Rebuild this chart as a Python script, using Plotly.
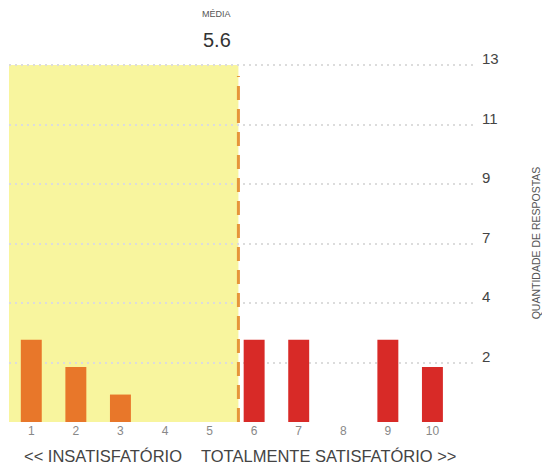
import plotly.graph_objects as go

# Satisfaction scores (1-10) and how many answers each received
scores = [1, 2, 3, 4, 5, 6, 7, 8, 9, 10]
answers = [3, 2, 1, 0, 0, 3, 3, 0, 3, 2]

y_max = 13
y_ticks = [y_max * i / 6 for i in range(7)]
y_labels = ["" if v == 0 else str(int(v + 0.5)) for v in y_ticks]

mean_score = sum(s * n for s, n in zip(scores, answers)) / sum(answers)

ORANGE = "#E8772A"
RED = "#D82A27"
YELLOW = "#F8F59E"
FONT = "Liberation Sans, Arial, sans-serif"

bar_colors = [ORANGE if s < mean_score else RED for s in scores]

fig = go.Figure()
fig.add_trace(go.Bar(
    x=scores, y=answers,
    marker=dict(color=bar_colors, line=dict(width=0)),
    width=0.47,
    hoverinfo="x+y",
))

# shaded area up to the mean and the dashed mean marker
fig.add_shape(type="rect", xref="x", yref="y", x0=0.5, x1=mean_score, y0=0, y1=y_max,
              fillcolor=YELLOW, line=dict(width=0), layer="below")
fig.add_shape(type="line", xref="x", yref="y", x0=mean_score, x1=mean_score, y0=0, y1=y_max - 0.4,
              line=dict(color="#E6953A", width=3, dash="14px,9px"))

fig.add_annotation(x=mean_score, y=1, xref="x", yref="paper",
                   text="MÉDIA", showarrow=False, xanchor="right", yanchor="middle",
                   xshift=-5, yshift=50, font=dict(size=9, color="#555", family=FONT))
fig.add_annotation(x=mean_score, y=1, xref="x", yref="paper",
                   text=f"{mean_score:.1f}", showarrow=False, xanchor="right", yanchor="middle",
                   xshift=-5, yshift=24, font=dict(size=20, color="#333", family=FONT))

fig.add_annotation(x=0.200, y=-0.094, xref="paper", yref="paper",
                   text="<< INSATISFATÓRIO", showarrow=False, xanchor="center", yanchor="middle",
                   font=dict(size=16.5, color="#444", family=FONT))
fig.add_annotation(x=0.684, y=-0.094, xref="paper", yref="paper",
                   text="TOTALMENTE SATISFATÓRIO >>", showarrow=False, xanchor="center", yanchor="middle",
                   font=dict(size=16.5, color="#444", family=FONT))

fig.update_layout(
    width=542, height=468,
    margin=dict(l=9, r=65, t=64, b=46),
    paper_bgcolor="white", plot_bgcolor="white",
    showlegend=False,
    font=dict(family=FONT),
    xaxis=dict(
        range=[0.5, 11], tickvals=scores, ticktext=[str(s) for s in scores],
        showgrid=False, zeroline=False, showline=False, ticks="",
        tickfont=dict(size=12, color="#888"),
        automargin=False,
    ),
    yaxis=dict(
        range=[0, y_max + 0.04], side="right", tickvals=y_ticks, ticktext=y_labels,
        showgrid=True, gridcolor="#DCDCDC", griddash="2px,4px", gridwidth=1.5,
        zeroline=False, showline=False, ticks="",
        ticklabelstandoff=4, ticklabelshift=-6,
        tickfont=dict(size=15, color="#444"),
        title=dict(text="QUANTIDADE DE RESPOSTAS", font=dict(size=10.5, color="#555"), standoff=36),
        automargin=False,
    ),
)

fig.write_html("out.html")
